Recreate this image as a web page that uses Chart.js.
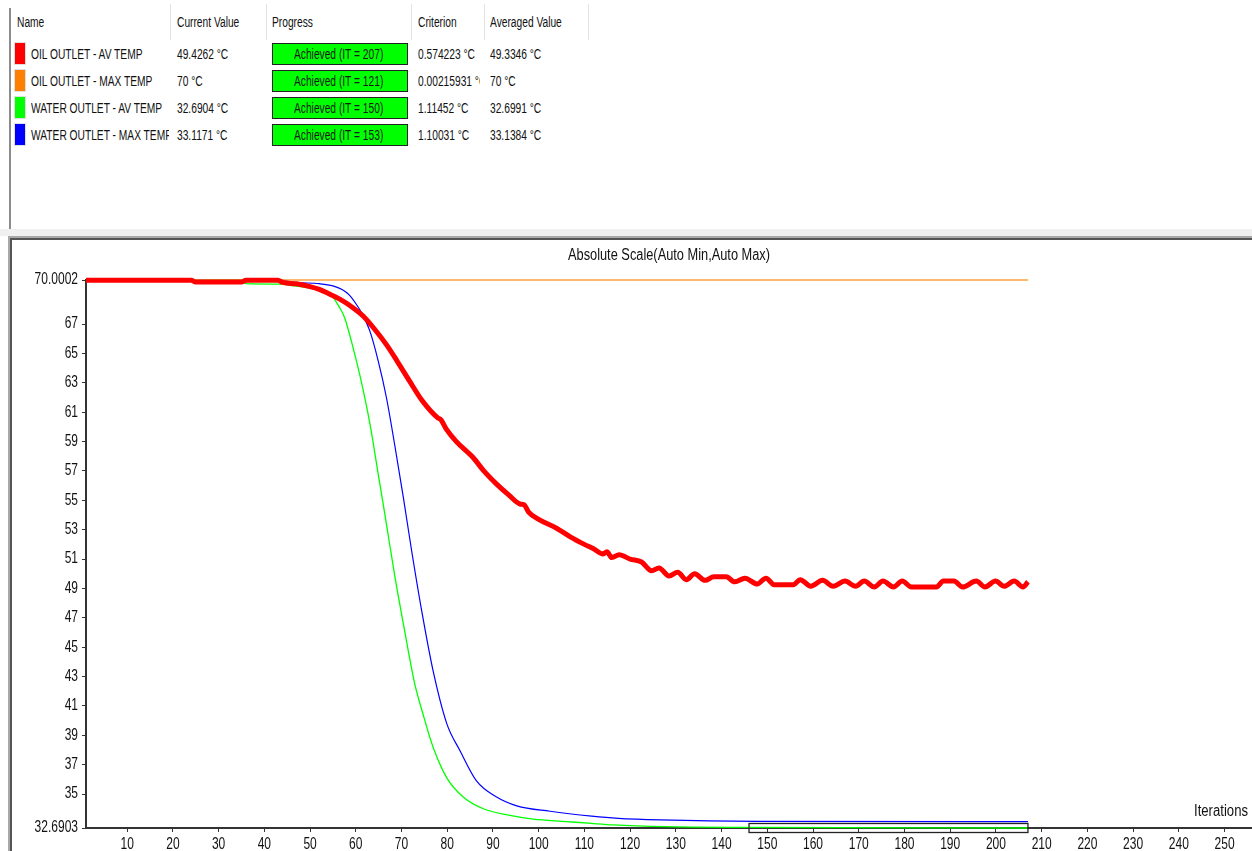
<!DOCTYPE html>
<html>
<head>
<meta charset="utf-8">
<script src="https://cdn.jsdelivr.net/npm/chart.js@4.4.0/dist/chart.umd.min.js"></script>
<style>
  html, body { margin: 0; padding: 0; background: #fff; overflow: hidden; }
  body { width: 1252px; height: 851px; position: relative;
         font-family: 'Liberation Sans', Arial, sans-serif; color: #111; }
  .abs { position: absolute; white-space: nowrap; overflow: hidden; font-size: 14px; line-height: 16px; }
  .abs span, .prog span { display: inline-block; transform: scaleX(0.73); transform-origin: left center; }
  .sep { position: absolute; top: 4px; height: 36px; width: 1px; background: #e2e2e2; }
  .swatch { position: absolute; left: 15px; width: 10px; height: 21px; box-shadow: 0 0 0 1px rgba(0,0,0,0.12); }
  .prog { position: absolute; left: 272px; width: 134px; height: 20px; background: #00ff00;
          border: 1px solid #222; font-size: 14px; line-height: 20px; color: #1a1a1a; white-space: nowrap; }
  .prog span { position: absolute; left: 21px; }
  #leftline { position: absolute; left: 9px; top: 8px; width: 2px; height: 222px; background: #8c8c8c; }
  #band { position: absolute; left: 0; top: 229px; width: 1252px; height: 7px; background: #f0f0f0; }
  #panel { position: absolute; left: 8px; top: 236px; width: 1250px; height: 620px;
           border-top: 2px solid #a8a8a8; border-left: 2px solid #a8a8a8; }
  #panel2 { position: absolute; left: 10px; top: 238px; width: 1250px; height: 620px;
            border-top: 2px solid #555; border-left: 2px solid #555; }
  #wrap { position: absolute; left: 13px; top: 241px; }
</style>
</head>
<body>
<div id="leftline"></div>
<div id="band"></div>
<div id="panel"></div>
<div id="panel2"></div>
<div id="wrap"><canvas id="monitorChart" width="1239" height="610"></canvas></div>

<script>
// table contents
const headers = ['Name', 'Current Value', 'Progress', 'Criterion', 'Averaged Value'];
const headerX = [17, 177, 272, 418, 490];
const separatorX = [170, 266, 411, 484, 588];
const seriesNames = ['OIL OUTLET - AV TEMP', 'OIL OUTLET - MAX TEMP', 'WATER OUTLET - AV TEMP', 'WATER OUTLET - MAX TEMP'];
const seriesColors = ['#ff0000', '#ff8000', '#00ff00', '#0000ff'];
const currentValues = ['49.4262 °C', '70 °C', '32.6904 °C', '33.1171 °C'];
const progressLabels = ['Achieved (IT = 207)', 'Achieved (IT = 121)', 'Achieved (IT = 150)', 'Achieved (IT = 153)'];
const criterionValues = ['0.574223 °C', '0.00215931 °C', '1.11452 °C', '1.10031 °C'];
const averagedValues = ['49.3346 °C', '70 °C', '32.6991 °C', '33.1384 °C'];

// chart data
const oilAvIter = [1, 24, 25, 35, 36, 43, 44, 47, 50, 52, 54, 56.5, 59, 61.6, 64, 66.7, 69, 71.8, 74.5, 78,
  78.6, 79.8, 82, 85.7, 88, 90.8, 93.5, 95.9, 96.8, 97.8, 100, 103.9, 107, 110, 112, 114.1, 114.9, 116, 117.6, 120,
  122.5, 124.7, 126.3, 128.5, 130.4, 132.3, 134.1, 136.4, 138.3, 141, 142.9, 145.1, 147.8, 149.7, 151.5, 155.7, 157.2, 159.5, 162.1, 164.4,
  167, 169.3, 171.2, 173.4, 175.3, 177.6, 179.5, 181.5, 187, 188.5, 190.8, 192.7, 195.7, 197.6, 199.9, 201.8, 204, 205.9, 207];
const oilAvTemp = [69.99, 69.99, 69.86, 69.86, 69.99, 69.99, 69.84, 69.74, 69.55, 69.36, 69.08, 68.7, 68.2, 67.55, 66.7, 65.6, 64.5, 63.1, 61.8, 60.6,
  60.5, 59.85, 59.0, 57.9, 57.0, 56.1, 55.35, 54.75, 54.7, 54.2, 53.7, 53.1, 52.5, 52.0, 51.7, 51.35, 51.5, 51.1, 51.3, 51.0,
  50.8, 50.2, 50.4, 49.85, 50.1, 49.6, 50.0, 49.55, 49.8, 49.8, 49.45, 49.7, 49.3, 49.7, 49.25, 49.25, 49.6, 49.15, 49.55, 49.15,
  49.5, 49.15, 49.5, 49.1, 49.5, 49.1, 49.5, 49.1, 49.1, 49.5, 49.5, 49.1, 49.5, 49.1, 49.5, 49.15, 49.5, 49.1, 49.45];

const oilMaxIter = [1, 207];
const oilMaxTemp = [70, 70];

const waterAvIter = [1, 35, 36, 44, 46, 49, 52, 54.3, 56.5, 57.6, 59.4, 61.2, 63.1, 64.9, 66.7, 68.5, 70.4, 72.9, 74.7, 76.9,
  79.9, 83.5, 87.9, 93.7, 98.8, 106.1, 111.6, 116.3, 127.7, 145.5, 207];
const waterAvTemp = [70, 70, 69.75, 69.72, 69.62, 69.5, 69.34, 69.1, 68.1, 67.4, 65.4, 63.1, 60.2, 56.8, 53.4, 49.9, 46.6, 42.5, 40.45, 38.2,
  36.1, 34.8, 34.0, 33.55, 33.3, 33.13, 33.0, 32.9, 32.78, 32.73, 32.69];

const waterMaxIter = [1, 44, 46, 52, 55, 57, 58.5, 60, 61.2, 63.1, 64.9, 66.7, 68.5, 70.4, 72.2, 74.4, 76.9, 79.9, 82.8, 86.4,
  90.8, 95.2, 102.5, 111.6, 117.4, 126.6, 147.7, 207];
const waterMaxTemp = [70, 70, 69.86, 69.75, 69.6, 69.35, 69.0, 68.4, 67.8, 66.5, 64.5, 62.0, 58.8, 55.2, 51.6, 47.5, 43.4, 39.8, 37.95, 35.9,
  34.8, 34.2, 33.83, 33.5, 33.35, 33.24, 33.14, 33.12];

const xTicks = [10, 20, 30, 40, 50, 60, 70, 80, 90, 100, 110, 120, 130, 140, 150, 160, 170, 180, 190, 200, 210, 220, 230, 240, 250];
const yTicks = [32.6903, 35, 37, 39, 41, 43, 45, 47, 49, 51, 53, 55, 57, 59, 61, 63, 65, 67, 70.0002];
const convergenceWindow = [146, 207];
const chartTitle = 'Absolute Scale(Auto Min,Auto Max)';
const xAxisTitle = 'Iterations';

const FONT = "'Liberation Sans', Arial, sans-serif";

// build the table on top
function addDiv(cls, css, text) {
    const d = document.createElement('div');
    d.className = cls;
    Object.assign(d.style, css);
    if (text !== undefined) {
        const s = document.createElement('span');
        s.textContent = text;
        d.appendChild(s);
    }
    document.body.appendChild(d);
    return d;
}

headers.forEach((h, i) => addDiv('abs', { left: headerX[i] + 'px', top: '14px' }, h));
separatorX.forEach(x => addDiv('sep', { left: x + 'px' }));

seriesNames.forEach((name, i) => {
    const cy = 54 + i * 27;
    addDiv('swatch', { top: (cy - 11) + 'px', background: seriesColors[i] });
    addDiv('abs', { left: '31px', top: (cy - 8) + 'px', width: '138px' }, name);
    addDiv('abs', { left: '177px', top: (cy - 8) + 'px' }, currentValues[i]);
    addDiv('prog', { top: (cy - 11) + 'px' }, progressLabels[i]);
    addDiv('abs', { left: '418px', top: (cy - 8) + 'px', width: '62px' }, criterionValues[i]);
    addDiv('abs', { left: '490px', top: (cy - 8) + 'px' }, averagedValues[i]);
});

function toPoints(xs, ys) {
    return xs.map((x, i) => ({ x: x, y: ys[i] }));
}

// narrow text like the solver's GUI font
function narrowText(ctx, text, x, y, sx) {
    ctx.save();
    ctx.translate(x, y);
    ctx.scale(sx, 1);
    ctx.fillText(text, 0, 0);
    ctx.restore();
}

// labels, caption and convergence window box
const extras = {
    id: 'extras',
    afterDraw(chart) {
        const ctx = chart.ctx;
        const xs = chart.scales.x;
        const ys = chart.scales.y;
        const area = chart.chartArea;
        ctx.save();
        ctx.fillStyle = '#111';

        ctx.font = '16px ' + FONT;
        ctx.textAlign = 'center';
        ctx.textBaseline = 'middle';
        narrowText(ctx, chartTitle, (area.left + area.right) / 2, 15, 0.8);

        ctx.textAlign = 'right';
        ctx.textBaseline = 'middle';
        yTicks.forEach(v => narrowText(ctx, String(v), area.left - 8, ys.getPixelForValue(v), 0.75));

        ctx.textAlign = 'center';
        ctx.textBaseline = 'top';
        xTicks.forEach(v => narrowText(ctx, String(v), xs.getPixelForValue(v), area.bottom + 9, 0.75));

        ctx.textAlign = 'right';
        ctx.textBaseline = 'middle';
        narrowText(ctx, xAxisTitle, area.right - 4, area.bottom - 16, 0.82);

        const x1 = xs.getPixelForValue(convergenceWindow[0]);
        const x2 = xs.getPixelForValue(convergenceWindow[1]);
        ctx.strokeStyle = '#222';
        ctx.lineWidth = 1.3;
        ctx.strokeRect(x1, area.bottom - 4.5, x2 - x1, 9);
        ctx.restore();
    }
};

const ctx = document.getElementById('monitorChart').getContext('2d');
new Chart(ctx, {
    type: 'line',
    data: {
        datasets: [
            { label: seriesNames[0], data: toPoints(oilAvIter, oilAvTemp), borderColor: '#ff0000', borderWidth: 5 },
            { label: seriesNames[1], data: toPoints(oilMaxIter, oilMaxTemp), borderColor: '#ffa040', borderWidth: 1.5 },
            { label: seriesNames[2], data: toPoints(waterAvIter, waterAvTemp), borderColor: '#00ff00', borderWidth: 1.3 },
            { label: seriesNames[3], data: toPoints(waterMaxIter, waterMaxTemp), borderColor: '#0000ff', borderWidth: 1.2 },
        ],
    },
    options: {
        responsive: false,
        animation: false,
        devicePixelRatio: 1,
        layout: { padding: { top: 39, left: 73 } },
        elements: {
            point: { radius: 0 },
            line: { cubicInterpolationMode: 'monotone', fill: false },
        },
        datasets: { line: { clip: false } },
        plugins: {
            legend: { display: false },
            tooltip: { enabled: false },
        },
        scales: {
            x: {
                type: 'linear',
                min: 1,
                max: 256,
                border: { color: '#333', width: 2 },
                grid: { drawOnChartArea: false, tickLength: 4, color: '#333', tickColor: '#333' },
                ticks: { display: false },
                afterBuildTicks: s => { s.ticks = xTicks.map(v => ({ value: v })); },
                afterFit: s => { s.height = 23; },
            },
            y: {
                type: 'linear',
                min: yTicks[0],
                max: yTicks[yTicks.length - 1],
                border: { color: '#333', width: 2 },
                grid: { drawOnChartArea: false, tickLength: 4, color: '#333', tickColor: '#333' },
                ticks: { display: false },
                afterBuildTicks: s => { s.ticks = yTicks.map(v => ({ value: v })); },
                afterFit: s => { s.width = 0; },
            },
        },
    },
    plugins: [extras],
});
</script>
</body>
</html>
